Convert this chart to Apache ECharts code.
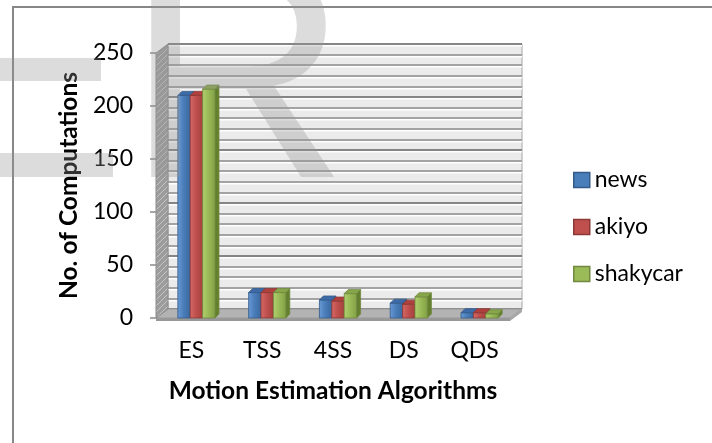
<!DOCTYPE html>
<html>
<head>
<meta charset="utf-8">
<script src="https://cdn.jsdelivr.net/npm/echarts@6/dist/echarts.min.js"></script>
<style>
  html, body { margin: 0; padding: 0; background: #fff; }
  #chart { width: 712px; height: 443px; }
</style>
</head>
<body>
<div id="chart"></div>
<script>
// Number of computations per motion estimation algorithm, three test sequences
const categories = ['ES', 'TSS', '4SS', 'DS', 'QDS'];
const seriesNames = ['news', 'akiyo', 'shakycar'];
const news = [210, 24, 17, 14, 5];
const akiyo = [210, 24, 16, 13, 5];
const shakycar = [216, 24, 23, 20, 4];
const yTicks = { min: 0, max: 250, interval: 50 };

const FONT = 'Lato, "Open Sans", sans-serif';

// front plane of the plot (value axis) and depth of the 3D box
const FRONT = { left: 156, right: 510, top: 53, bottom: 318 };
const DX = 12, DY = -9;
const BAR_DEPTH = 4;

const palettes = [
  { front: ['#6a9ad6', '#4a7ebb', '#3b679d'], top: '#3d6ba8', side: '#2d5080', edge: '#345a88' },
  { front: ['#d56a67', '#c0504d', '#a2403d'], top: '#b0403d', side: '#853230', edge: '#8c3836' },
  { front: ['#b1d06f', '#9bbb59', '#80a044'], top: '#86a649', side: '#62802d', edge: '#71893f' }
];

function hatchPattern() {
  const c = document.createElement('canvas');
  c.width = 6; c.height = 6;
  const g = c.getContext('2d');
  g.fillStyle = '#9c9c9c';
  g.fillRect(0, 0, 6, 6);
  g.strokeStyle = '#c4c4c4';
  g.lineWidth = 1;
  g.beginPath();
  g.moveTo(0, 6); g.lineTo(6, 0);
  g.stroke();
  return c;
}

function bar3d(seriesIndex) {
  const pal = palettes[seriesIndex];
  return function (params, api) {
    const x = api.value(0);
    const v = api.value(1);
    const base = api.coord([x, 0]);
    const top = api.coord([x, v]);
    const band = api.size([1, 0])[0];
    const bw = band * 0.175;
    const cx = base[0] + 5 + (seriesIndex - 1) * bw;
    const l = cx - bw / 2, r = cx + bw / 2;
    const t = top[1], b = base[1], d = BAR_DEPTH;
    return {
      type: 'group',
      children: [
        {
          type: 'polygon',
          shape: { points: [[r, t], [r + d, t - d], [r + d, b - d], [r, b]] },
          style: { fill: pal.side, stroke: pal.edge, lineWidth: 0.8 }
        },
        {
          type: 'rect',
          shape: { x: l, y: t, width: bw, height: b - t },
          style: {
            fill: new echarts.graphic.LinearGradient(0, 0, 1, 0, [
              { offset: 0, color: pal.front[0] },
              { offset: 0.45, color: pal.front[1] },
              { offset: 1, color: pal.front[2] }
            ]),
            stroke: pal.edge, lineWidth: 0.8
          }
        },
        {
          type: 'polygon',
          shape: { points: [[l, t], [l + d, t - d], [r + d, t - d], [r, t]] },
          style: { fill: pal.top, stroke: pal.edge, lineWidth: 0.8 }
        }
      ]
    };
  };
}

const seriesData = [news, akiyo, shakycar];

const chart = echarts.init(document.getElementById('chart'), null, { renderer: 'canvas' });

const W = 712, H = 443;
const Lf = FRONT.left, Rf = FRONT.right, Tf = FRONT.top, Bf = FRONT.bottom;

const option = {
  animation: false,
  backgroundColor: '#ffffff',
  textStyle: { fontFamily: FONT },
  grid: [
    { left: Lf, right: W - Rf, top: Tf, bottom: H - Bf, containLabel: false },
    {
      left: Lf + DX, right: W - Rf - DX, top: Tf + DY, bottom: H - Bf - DY,
      show: true, backgroundColor: '#ebebeb', borderColor: '#a5a5a5', borderWidth: 1
    }
  ],
  xAxis: [
    {
      gridIndex: 0, type: 'category', data: categories,
      axisLine: { show: false }, axisTick: { show: false },
      axisLabel: { fontSize: 23, color: '#000', margin: 21, fontFamily: FONT },
      name: 'Motion Estimation Algorithms', nameLocation: 'middle', nameGap: 61,
      nameTextStyle: { fontSize: 24.5, fontWeight: 'bold', color: '#000', fontFamily: FONT }
    },
    {
      gridIndex: 1, type: 'category', data: categories, show: false
    }
  ],
  yAxis: [
    {
      gridIndex: 0, type: 'value', min: yTicks.min, max: yTicks.max, interval: yTicks.interval,
      axisLine: { show: false },
      axisTick: { show: true, length: 6, lineStyle: { color: '#8a8a8a', width: 1.5 } },
      splitLine: { show: false },
      axisLabel: { fontSize: 23, color: '#000', margin: 23, fontFamily: FONT },
      name: 'No. of Computations', nameLocation: 'middle', nameRotate: 90, nameGap: 74,
      nameTextStyle: { fontSize: 24.5, fontWeight: 'bold', color: '#000', fontFamily: FONT }
    },
    {
      gridIndex: 1, type: 'value', min: yTicks.min, max: yTicks.max, interval: yTicks.interval,
      axisLine: { show: false }, axisTick: { show: false }, axisLabel: { show: false },
      splitLine: { show: true, lineStyle: { color: '#858585', width: 2, shadowColor: '#ffffff', shadowOffsetY: 1.5 } },
      minorTick: { show: false, splitNumber: 5 },
      minorSplitLine: { show: true, lineStyle: { color: '#a3a3a3', width: 2, shadowColor: '#ffffff', shadowOffsetY: 1.5 } }
    }
  ],
  legend: {
    orient: 'vertical', left: 573, top: 168, padding: 0,
    itemWidth: 16, itemHeight: 15, itemGap: 23,
    icon: 'rect',
    textStyle: { fontSize: 23, color: '#000', fontFamily: FONT, lineHeight: 24 },
    data: seriesNames.map((n, i) => ({
      name: n,
      itemStyle: { color: palettes[i].front[1], borderColor: palettes[i].edge, borderWidth: 1.5 }
    }))
  },
  graphic: [
    // floor of the plot box
    {
      type: 'polygon', silent: true, z: 1,
      shape: { points: [[Lf, Bf], [Rf, Bf], [Rf + DX, Bf + DY], [Lf + DX, Bf + DY]] },
      style: { fill: '#b3b3b3', stroke: '#9a9a9a', lineWidth: 1 }
    },
    {
      type: 'polygon', silent: true, z: 1,
      shape: { points: [[Lf, Bf], [Rf, Bf], [Rf, Bf + 3], [Lf, Bf + 3]] },
      style: { fill: '#989898' }
    },
    {
      type: 'polygon', silent: true, z: 1,
      shape: { points: [[Rf, Bf], [Rf + DX, Bf + DY], [Rf + DX, Bf + DY + 3], [Rf, Bf + 3]] },
      style: { fill: '#a8a8a8' }
    },
    // left side wall
    {
      type: 'polygon', silent: true, z: 1,
      shape: { points: [[Lf, Bf], [Lf, Tf], [Lf + DX, Tf + DY], [Lf + DX, Bf + DY]] },
      style: { fill: { image: hatchPattern(), repeat: 'repeat' }, stroke: '#8c8c8c', lineWidth: 1 }
    },
    // outer frame
    {
      type: 'rect', silent: true, z: 50,
      shape: { x: 13, y: 7, width: 900, height: 600 },
      style: { fill: 'none', stroke: '#878787', lineWidth: 2 }
    },
    // letterhead marks
    {
      type: 'rect', silent: true, z: 60,
      shape: { x: 0, y: 58, width: 101, height: 23 },
      style: { fill: 'rgba(150,150,150,0.33)' }
    },
    {
      type: 'rect', silent: true, z: 60,
      shape: { x: 0, y: 153, width: 113, height: 24 },
      style: { fill: 'rgba(150,150,150,0.33)' }
    },
    {
      type: 'text', silent: true, z: 60,
      x: 126, y: -62,
      style: {
        text: 'R', fontSize: 308, fontFamily: '"Liberation Sans", Arial, sans-serif',
        fill: 'rgba(150,150,150,0.33)', verticalAlign: 'top'
      }
    }
  ],
  series: seriesData.map((data, i) => ({
    name: seriesNames[i],
    type: 'custom',
    xAxisIndex: 0, yAxisIndex: 0,
    z: 5,
    itemStyle: { color: palettes[i].front[1], borderColor: palettes[i].edge },
    renderItem: bar3d(i),
    encode: { x: 0, y: 1 },
    data: data.map((v, j) => [j, v])
  }))
};

chart.setOption(option);
</script>
</body>
</html>
